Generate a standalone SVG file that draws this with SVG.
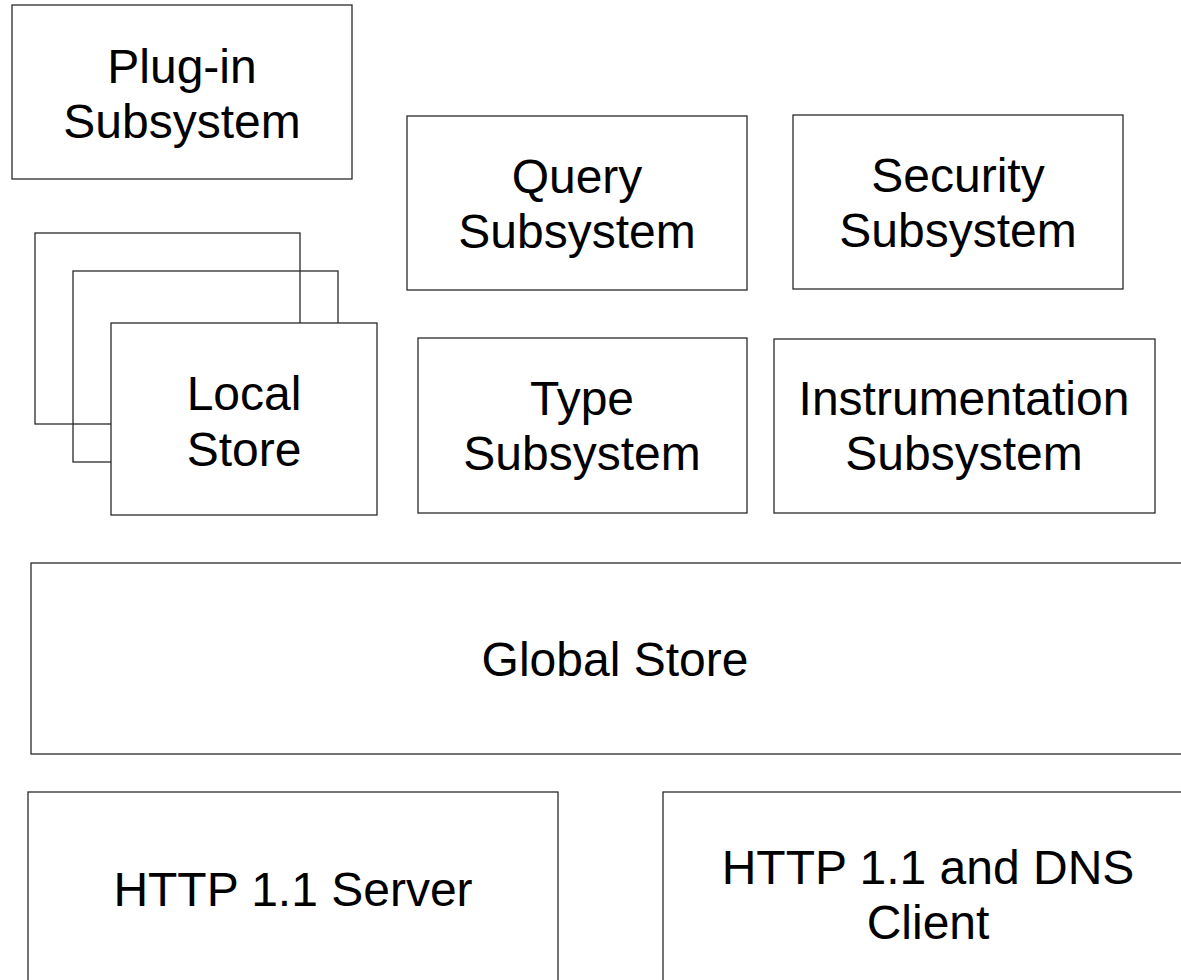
<svg xmlns="http://www.w3.org/2000/svg" width="1181" height="980" viewBox="0 0 1181 980">
  <style>
    .box { fill: #ffffff; stroke: #2a2a2a; stroke-width: 1.3; }
    .frame { fill: none; stroke: #2a2a2a; stroke-width: 1.3; }
    .label { font-family: "Liberation Sans", Arial, sans-serif; font-size: 48px; fill: #000000; text-anchor: middle; }
  </style>
  <rect width="1181" height="980" fill="#ffffff"/>

  <g id="plugin-subsystem">
    <rect class="box" x="12" y="5" width="340" height="174"/>
    <text class="label" x="182" y="83">Plug-in</text>
    <text class="label" x="182" y="138">Subsystem</text>
  </g>

  <g id="query-subsystem">
    <rect class="box" x="407" y="116" width="340" height="174"/>
    <text class="label" x="577" y="193">Query</text>
    <text class="label" x="577" y="248">Subsystem</text>
  </g>

  <g id="security-subsystem">
    <rect class="box" x="793" y="115" width="330" height="174"/>
    <text class="label" x="958" y="192">Security</text>
    <text class="label" x="958" y="247">Subsystem</text>
  </g>

  <g id="local-store">
    <rect class="frame" x="35" y="233" width="265" height="191"/>
    <rect class="frame" x="73" y="271" width="265" height="191"/>
    <rect class="box" x="111" y="323" width="266" height="192"/>
    <text class="label" x="244" y="410">Local</text>
    <text class="label" x="244" y="466">Store</text>
  </g>

  <g id="type-subsystem">
    <rect class="box" x="418" y="338" width="329" height="175"/>
    <text class="label" x="582" y="415">Type</text>
    <text class="label" x="582" y="470">Subsystem</text>
  </g>

  <g id="instrumentation-subsystem">
    <rect class="box" x="774" y="339" width="381" height="174"/>
    <text class="label" x="964" y="415">Instrumentation</text>
    <text class="label" x="964" y="470">Subsystem</text>
  </g>

  <g id="global-store">
    <rect class="box" x="31" y="563" width="1168" height="191"/>
    <text class="label" x="615" y="676">Global Store</text>
  </g>

  <g id="http-server">
    <rect class="box" x="28" y="792" width="530" height="200"/>
    <text class="label" x="293" y="906">HTTP 1.1 Server</text>
  </g>

  <g id="http-dns-client">
    <rect class="box" x="663" y="792" width="530" height="200"/>
    <text class="label" x="928" y="884">HTTP 1.1 and DNS</text>
    <text class="label" x="928" y="939">Client</text>
  </g>

  <g id="connectors"/>
</svg>
